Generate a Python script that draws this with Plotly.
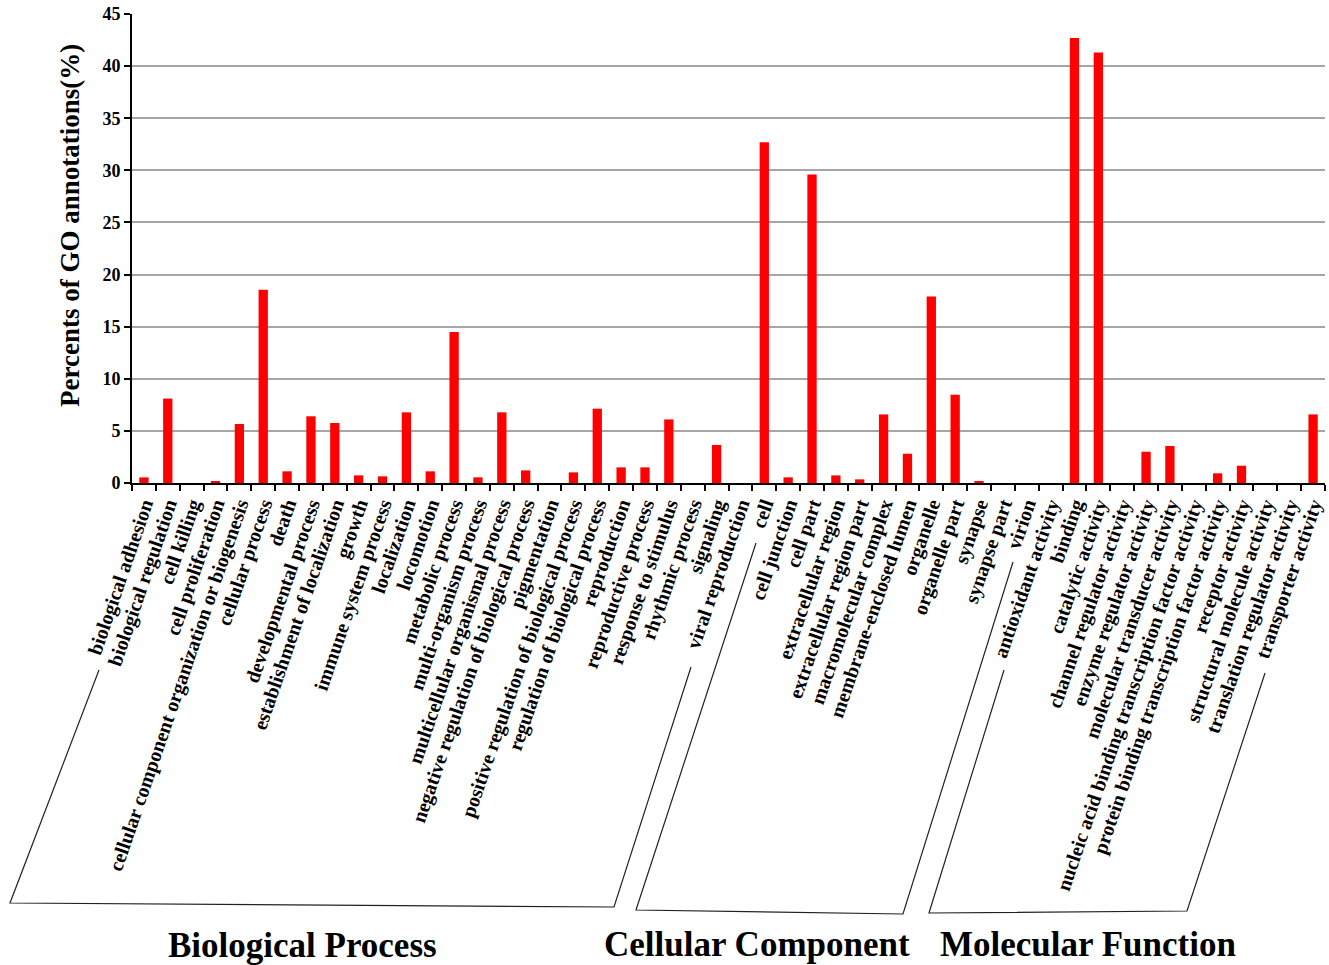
import plotly.graph_objects as go

# GO term categories, grouped by ontology
bp_terms = [
    "biological adhesion", "biological regulation", "cell killing", "cell proliferation",
    "cellular component organization or biogenesis", "cellular process", "death",
    "developmental process", "establishment of localization", "growth",
    "immune system process", "localization", "locomotion", "metabolic process",
    "multi-organism process", "multicellular organismal process",
    "negative regulation of biological process", "pigmentation",
    "positive regulation of biological process", "regulation of biological process",
    "reproduction", "reproductive process", "response to stimulus", "rhythmic process",
    "signaling", "viral reproduction",
]
bp_values = [0.54, 8.1, 0.0, 0.19, 5.66, 18.55, 1.12, 6.4, 5.76, 0.73,
             0.64, 6.78, 1.12, 14.5, 0.54, 6.78, 1.21, 0.0, 1.02, 7.13,
             1.5, 1.5, 6.1, 0.0, 3.65, 0.0]

cc_terms = [
    "cell", "cell junction", "cell part", "extracellular region",
    "extracellular region part", "macromolecular complex", "membrane-enclosed lumen",
    "organelle", "organelle part", "synapse", "synapse part", "virion",
]
cc_values = [32.7, 0.54, 29.6, 0.73, 0.35, 6.58, 2.81, 17.9, 8.47, 0.19, 0.0, 0.0]

mf_terms = [
    "antioxidant activity", "binding", "catalytic activity", "channel regulator activity",
    "enzyme regulator activity", "molecular transducer activity",
    "nucleic acid binding transcription factor activity",
    "protein binding transcription factor activity", "receptor activity",
    "structural molecule activity", "translation regulator activity",
    "transporter activity",
]
mf_values = [0.0, 42.7, 41.3, 0.0, 3.0, 3.55, 0.0, 0.93, 1.66, 0.0, 0.0, 6.58]

group_titles = ["Biological Process", "Cellular Component", "Molecular Function"]

terms = bp_terms + cc_terms + mf_terms
values = bp_values + cc_values + mf_values

W, H = 1329, 965
L, R, T, B = 132, 4, 14, 482
SERIF = "Liberation Serif"


def to_paper(px, py):
    """Convert page pixel position to paper coordinates of the plot area."""
    pw = W - L - R
    ph = H - T - B
    return (px - L) / pw, (H - B - py) / ph


fig = go.Figure(
    go.Bar(
        x=terms,
        y=values,
        marker=dict(color="#FF0000", line=dict(width=0)),
    )
)

# Bracket outlines under the tick labels of each ontology
brackets = [
    [(99, 670), (10, 903), (614, 907), (691, 667)],
    [(756, 543), (636, 910), (903, 914), (1013, 562)],
    [(1004, 670), (929, 913), (1187, 911), (1265, 673)],
]
shapes = []
for pts in brackets:
    pp = [to_paper(x, y) for x, y in pts]
    path = "M " + " L ".join(f"{x:.5f},{y:.5f}" for x, y in pp)
    shapes.append(dict(type="path", xref="paper", yref="paper", path=path,
                       line=dict(color="#222222", width=1.2)))

title_pos = [(302, 945), (757, 944), (1088, 944)]
annotations = []
for txt, (x, y) in zip(group_titles, title_pos):
    ax, ay = to_paper(x, y)
    annotations.append(dict(text=txt, x=ax, y=ay, xref="paper", yref="paper",
                            showarrow=False, xanchor="center", yanchor="middle",
                            font=dict(family=SERIF, size=35, color="black", weight="bold")))

ax, ay = to_paper(70, 226)
annotations.append(dict(text="Percents of GO annotations(%)", x=ax, y=ay,
                        xref="paper", yref="paper", showarrow=False, textangle=-90,
                        xanchor="center", yanchor="middle",
                        font=dict(family=SERIF, size=27, color="black", weight="bold")))

fig.update_layout(
    width=W, height=H,
    margin=dict(l=L, r=R, t=T, b=B, autoexpand=False),
    paper_bgcolor="white", plot_bgcolor="white",
    bargap=0.61,
    showlegend=False,
    shapes=shapes,
    annotations=annotations,
    xaxis=dict(
        type="category",
        tickmode="linear", tick0=0, dtick=1,
        tickangle=-71,
        tickfont=dict(family=SERIF, size=20, color="black", weight="bold"),
        ticks="outside", ticklen=6, tickwidth=1.5, tickcolor="black",
        tickson="boundaries",
        showline=True, linecolor="black", linewidth=2,
        showgrid=False,
        automargin=False,
    ),
    yaxis=dict(
        range=[0, 45], dtick=5,
        tickfont=dict(family=SERIF, size=18, color="black", weight="bold"),
        ticks="outside", ticklen=6, tickwidth=1.5, tickcolor="black",
        showline=True, linecolor="black", linewidth=2,
        showgrid=True, gridcolor="#A6A6A6", gridwidth=1.5,
        zeroline=False,
        automargin=False,
    ),
)

fig.write_html("out.html")
